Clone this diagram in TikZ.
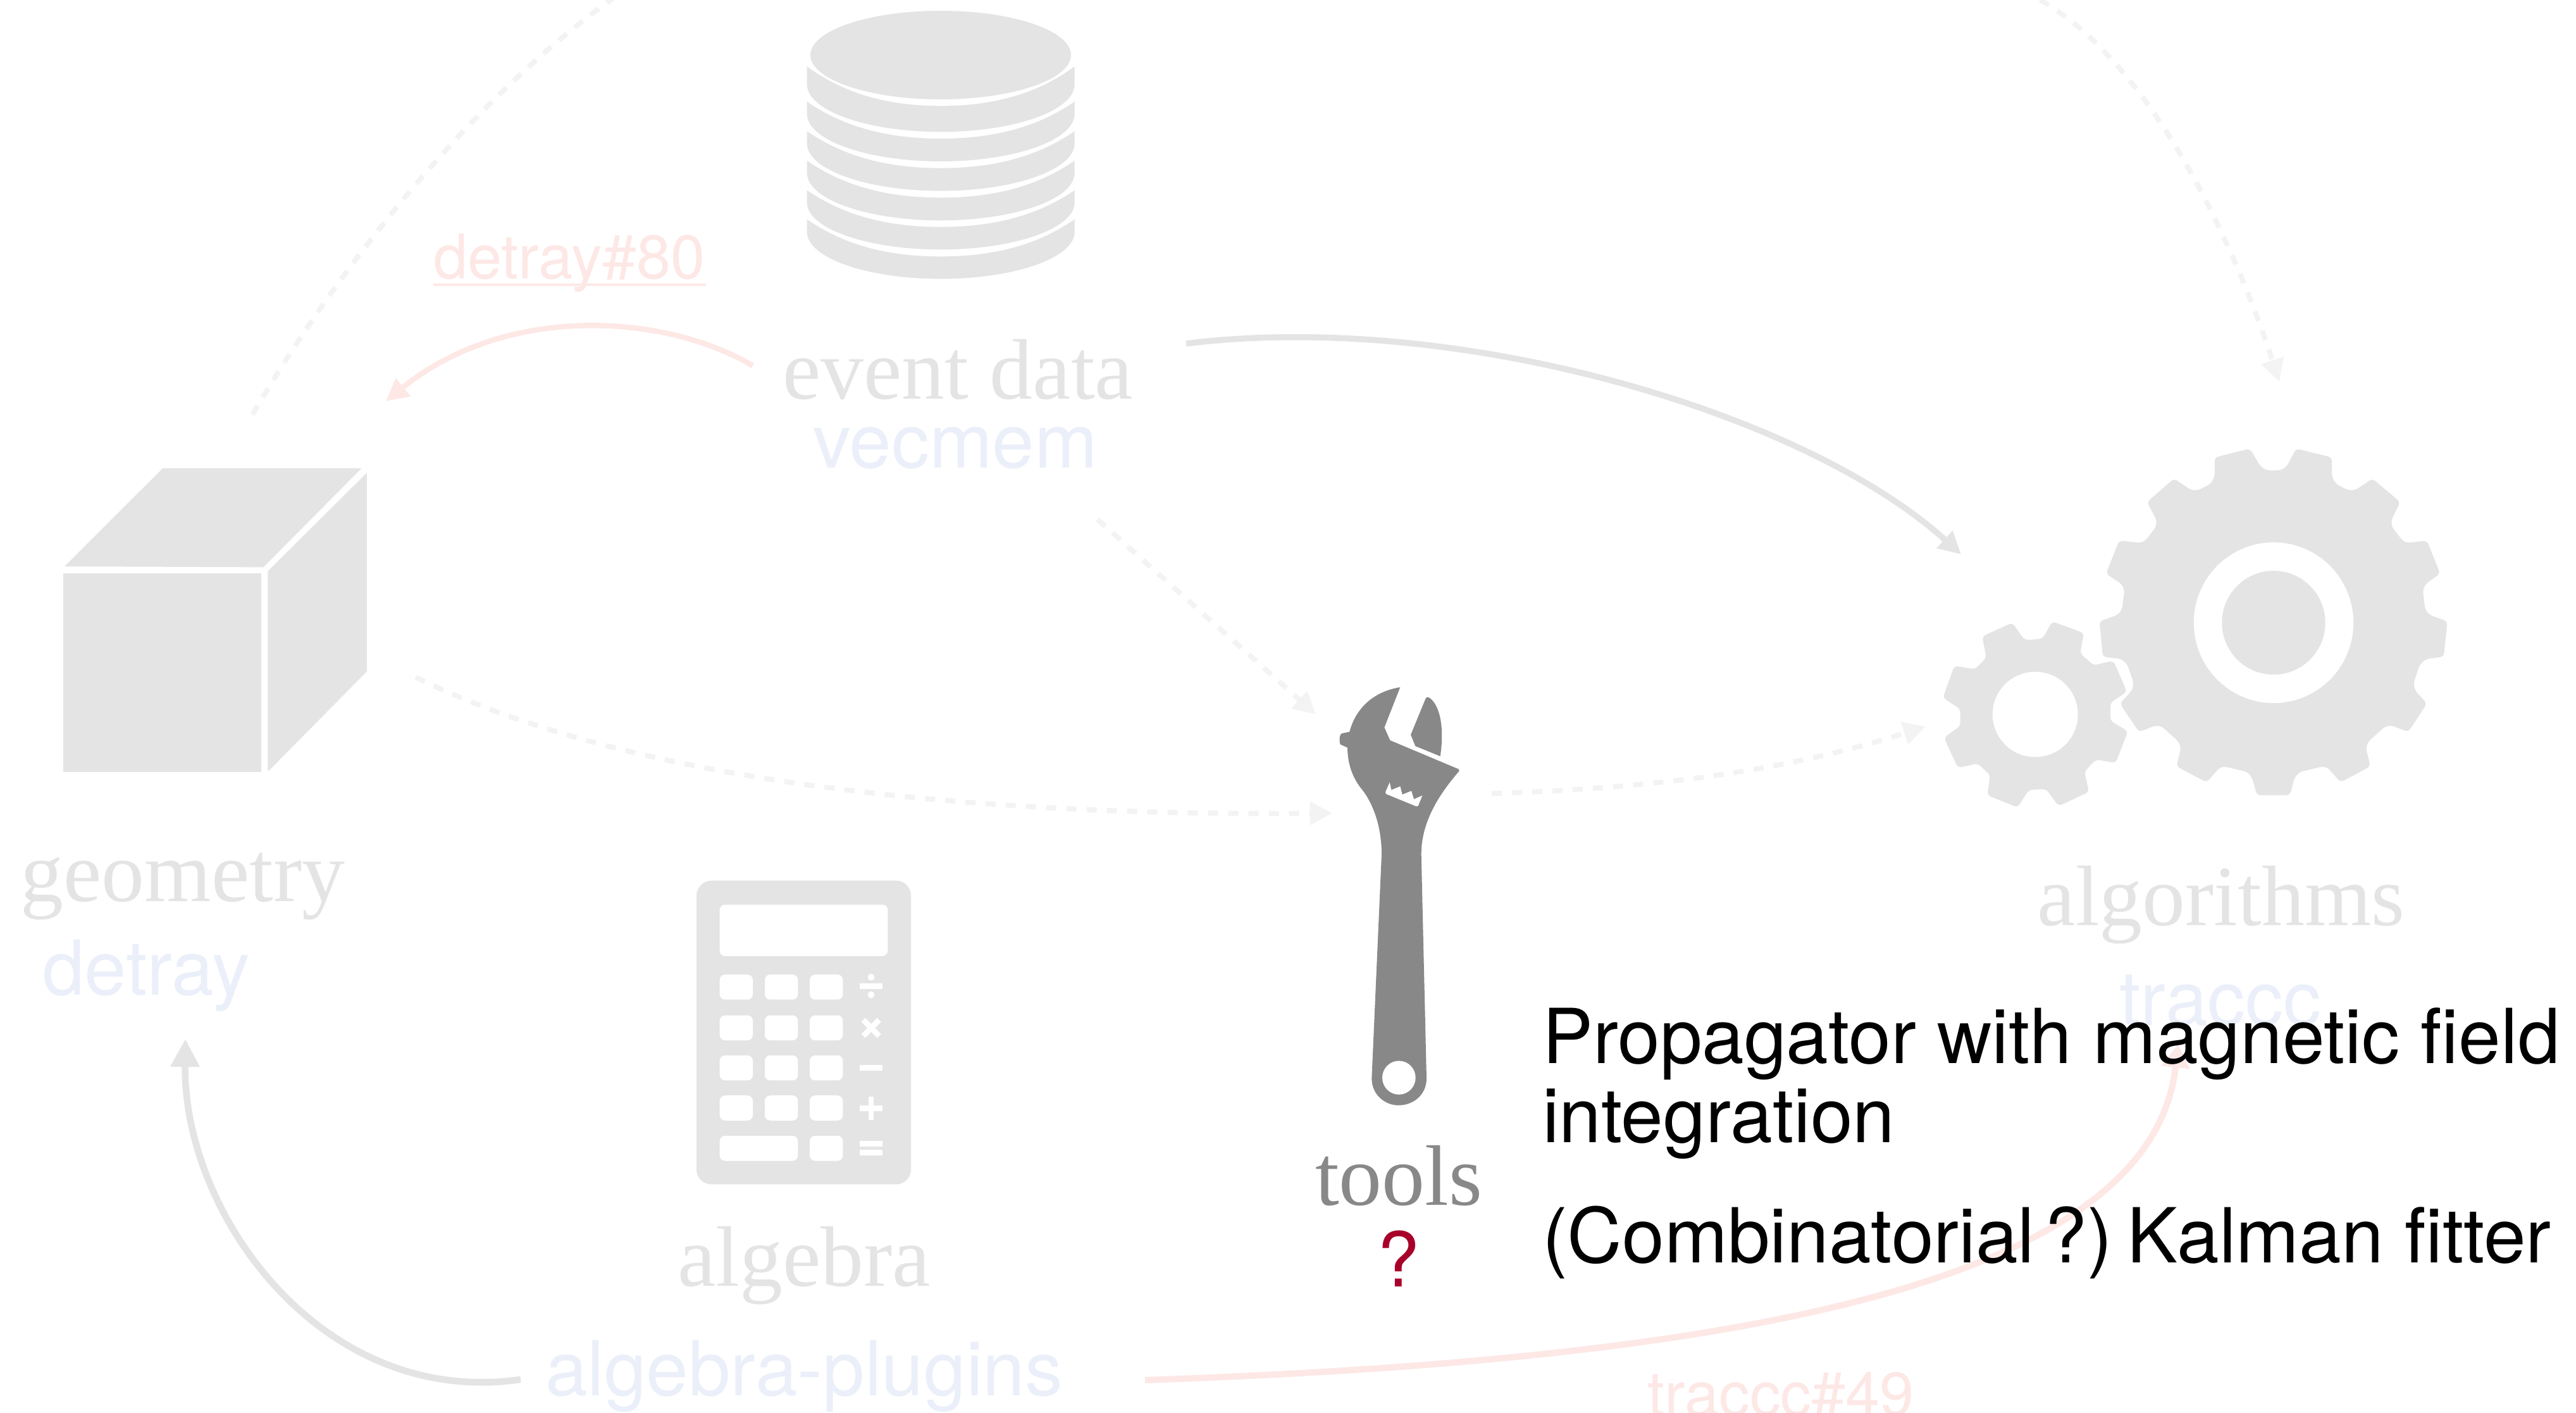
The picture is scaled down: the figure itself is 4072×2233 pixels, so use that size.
\documentclass[tikz,border=0pt]{standalone}
\usepackage{fontspec}
\setmainfont{Liberation Serif}
\newfontfamily\helv{TeX Gyre Heros}
\usetikzlibrary{arrows.meta}
\definecolor{icon}{HTML}{E4E4E4}
\definecolor{tool}{HTML}{888888}
\definecolor{dashc}{HTML}{F3F3F3}
\definecolor{redl}{HTML}{FDE8E6}
\definecolor{bluel}{HTML}{EBEFF9}
\definecolor{qmark}{HTML}{A8002B}
\tikzset{
  every node/.style={inner sep=0pt,outer sep=0pt},
  grouplabel/.style={anchor=base,font=\fontsize{38.6}{44}\selectfont,text=icon},
  projlabel/.style={anchor=base,font=\helv\fontsize{34.05}{40}\selectfont,text=bluel},
  issuelabel/.style={anchor=base,font=\helv\fontsize{27.7}{32}\selectfont,text=redl},
  notelabel/.style={anchor=base west,font=\helv\fontsize{34.1}{40}\selectfont,text=black},
  link/.style={line width=2.28pt},
  head/.style={-{Triangle[length=10pt,width=10pt]}},
  solidlink/.style={line width=2.7pt,draw=icon,head},
  redlink/.style={line width=2.4pt,draw=redl,head},
  dashlink/.style={link,draw=dashc,dash pattern=on 4.55pt off 4.55pt},
  iconpart/.style={fill=icon},
  zoomframe/.style n args={4}{shift={(#1,#2)},xscale=#3,yscale=#4},
}
\newcommand{\dbband}[4]{%
  \fill[iconpart] (107,#1) .. controls (290,{#1+(#2-#1)*0.72}) and (500,#2) .. (741,#2)
    .. controls (982,#2) and (1193,{#1+(#2-#1)*0.72}) .. (1376,#1)
    -- (1376,#3) .. controls (1376,{#3+(#4-#3)*0.5523}) and (1091,#4) .. (741,#4)
    .. controls (392,#4) and (107,{#3+(#4-#3)*0.5523}) .. (107,#3) -- cycle;}
\newcommand{\calckey}[4]{\fill[white,rounded corners=2.4pt] (#1,#3) rectangle (#2,#4);}
\begin{document}
\begin{tikzpicture}[x=0.01cm,y=-0.01cm]
\useasboundingbox (0,0) rectangle (4072,2233);
\fill[white] (0,0) rectangle (4072,2233);

% ---------- connector end points
\coordinate (tlA) at (972,-5);
\coordinate (tlB) at (395,662);
\coordinate (trA) at (3225,0);
\coordinate (trB) at (3603,603);
\coordinate (evOut) at (1875,543);
\coordinate (algIn) at (3100,876);
\coordinate (evLeft) at (1190,578);
\coordinate (geoTop) at (610,634);
\coordinate (plugL) at (823,2180);
\coordinate (geoBot) at (293,1642);
\coordinate (plugR) at (1810,2181);
\coordinate (tracIn) at (3443,1650);
\coordinate (vecOut) at (1735,821);
\coordinate (toolTop) at (2080,1129);
\coordinate (geoOut) at (657,1070);
\coordinate (toolLeft) at (2106,1285);
\coordinate (toolOut) at (2358,1254);
\coordinate (algLeft) at (3044,1148);

% ---------- database
\begin{scope}[zoomframe={1240}{0}{0.33333}{0.33333}]
  \fill[iconpart] (741,51) .. controls (1082,51) and (1359,145) .. (1359,261)
    .. controls (1359,377) and (1082,471) .. (741,471)
    .. controls (400,471) and (123,377) .. (123,261)
    .. controls (123,145) and (400,51) .. (741,51) -- cycle;
  \dbband{315}{502}{400}{625}
  \dbband{482}{657}{540}{765}
  \dbband{622}{797}{680}{905}
  \dbband{762}{937}{820}{1045}
  \dbband{902}{1076}{960}{1183}
  \dbband{1040}{1216}{1100}{1322}
\end{scope}

% ---------- cube
\begin{scope}[zoomframe={0}{640}{0.40816}{0.63776}]
  \fill[iconpart] (245,417) rectangle (1013,909);
  \fill[iconpart] (250,400) -- (630,157) -- (1400,157) -- (1020,402) -- cycle;
  \fill[iconpart] (1037,412) -- (1421,168) -- (1421,660) -- (1040,907) -- (1037,907) -- cycle;
\end{scope}

% ---------- calculator
\begin{scope}[zoomframe={1060}{1360}{0.33333}{0.34435}]
  \fill[iconpart,rounded corners=6.7pt] (123,92) rectangle (1140,1486);
  \calckey{233}{1030}{202}{438}
  \foreach \ya/\yb in {523/638,710/825,894/1009,1078/1193}{
    \calckey{233}{390}{\ya}{\yb}
    \calckey{447}{604}{\ya}{\yb}
    \calckey{660}{817}{\ya}{\yb}
  }
  \calckey{233}{604}{1263}{1378}
  \calckey{660}{817}{1263}{1378}
  % divide
  \fill[white] (897,563) rectangle (1005,589);
  \fill[white] (951,535) ellipse [x radius=16,y radius=16];
  \fill[white] (951,616) ellipse [x radius=16,y radius=16];
  % times
  \draw[white,line width=2.5pt] (914,731) -- (989,805);
  \draw[white,line width=2.5pt] (989,731) -- (914,805);
  % minus
  \fill[white] (897,939) rectangle (1005,965);
  % plus
  \fill[white] (897,1124) rectangle (1005,1150);
  \fill[white] (938,1083) rectangle (964,1190);
  % equals
  \fill[white] (897,1286) rectangle (1005,1312);
  \fill[white] (897,1328) rectangle (1005,1354);
\end{scope}

% ---------- gears
\begin{scope}[zoomframe={3040}{680}{0.54847}{0.40816}]
  \fill[iconpart,rounded corners=1.5pt]
    (942,71)--(972,140)--(990,155)--(1030,155)--(1048,140)--(1075,71)--(1178,105)--(1178,180)--(1190,208)--(1225,232)--(1245,232)--(1295,187)--(1375,278)--(1350,345)--(1350,372)--(1382,428)--(1395,436)--(1452,427)--(1490,555)--(1448,595)--(1440,620)--(1447,695)--(1460,715)--(1511,740)--(1500,877)--(1450,885)--(1432,905)--(1413,980)--(1418,1008)--(1452,1058)--(1398,1168)--(1350,1143)--(1332,1146)--(1283,1205)--(1276,1230)--(1289,1301)--(1203,1363)--(1165,1305)--(1150,1302)--(1085,1323)--(1070,1345)--(1057,1413)--(962,1413)--(948,1345)--(935,1323)--(870,1302)--(855,1305)--(817,1363)--(730,1301)--(743,1230)--(736,1205)--(687,1146)--(670,1143)--(622,1168)--(567,1058)--(602,1008)--(607,980)--(588,905)--(570,885)--(518,877)--(508,740)--(560,715)--(573,695)--(580,620)--(572,595)--(527,555)--(565,427)--(625,436)--(640,428)--(672,372)--(672,345)--(645,278)--(723,187)--(773,232)--(793,232)--(828,208)--(840,180)--(840,105)--cycle;
  \fill[white] (1010,745) ellipse [x radius=230,y radius=311];
  \fill[iconpart] (1010,745) ellipse [x radius=149,y radius=201];
  \fill[iconpart,rounded corners=1.5pt]
    (257,745)--(290,808)--(300,812)--(335,808)--(345,805)--(372,740)--(463,785)--(453,860)--(458,872)--(480,895)--(490,910)--(548,892)--(587,1012)--(540,1055)--(540,1125)--(590,1165)--(555,1288)--(500,1275)--(490,1285)--(465,1322)--(478,1400)--(390,1455)--(355,1390)--(340,1390)--(305,1392)--(272,1460)--(185,1413)--(193,1335)--(185,1325)--(157,1290)--(100,1307)--(60,1190)--(107,1145)--(107,1080)--(57,1035)--(90,912)--(148,925)--(155,918)--(182,880)--(170,798)--cycle;
  \fill[white] (323,1100) ellipse [x radius=123,y radius=165];
\end{scope}

% ---------- wrench
\begin{scope}[zoomframe={2000}{1040}{0.33333}{0.48473}]
  \fill[tool] (640,95) .. controls (520,108) and (430,160) .. (400,240) -- (362,246)
    .. controls (350,250) and (350,278) .. (358,282) -- (390,292)
    .. controls (390,350) and (420,395) .. (455,425)
    .. controls (520,480) and (552,560) .. (552,640) -- (505,1370)
    .. controls (505,1425) and (570,1458) .. (632,1458)
    .. controls (700,1458) and (765,1425) .. (765,1370) -- (740,640)
    .. controls (740,530) and (830,440) .. (920,368) -- (917,362) -- (592,268) -- (565,226) -- cycle;
  \fill[tool] (690,250) -- (760,133) .. controls (765,125) and (772,127) .. (780,130)
    .. controls (830,155) and (850,230) .. (830,320) -- (712,287) -- cycle;
  \fill[white] (634,1368) ellipse [x radius=79,y radius=55];
  \fill[white] (570,437) -- (590,405) -- (598,430) -- (640,418) -- (650,445) -- (693,433)
    -- (705,460) -- (745,448) -- (725,482) -- (715,483) -- (573,443) -- cycle;
\end{scope}

% ---------- connectors
\draw[dashlink] (tlA) .. controls (740,160) and (530,430) .. (tlB);
\draw[dashlink,head] (trA) .. controls (3400,100) and (3530,380) .. (trB);
\draw[dashlink,head] (vecOut) -- (toolTop);
\draw[dashlink,head] (geoOut) .. controls (1000,1240) and (1550,1290) .. (toolLeft);
\draw[dashlink,head] (toolOut) .. controls (2650,1245) and (2850,1210) .. (algLeft);
\draw[solidlink] (evOut) .. controls (2300,490) and (2850,650) .. (algIn);
\draw[redlink] (evLeft) .. controls (1050,495) and (800,480) .. (geoTop);
\draw[solidlink,line width=3pt,-{Triangle[length=12.5pt,width=12.5pt]}] (plugL) .. controls (510,2225) and (290,1920) .. (geoBot);
\draw[redlink,line width=2.85pt,-{Triangle[length=10.5pt,width=12.2pt]}] (plugR) .. controls (2700,2150) and (3400,2040) .. (tracIn);

% ---------- labels
\node[grouplabel] (lgeo) at (289,1424) {geometry};
\node[projlabel] (ldet) at (231,1572) {detray};
\node[grouplabel] (levt) at (1514,630) {event data};
\node[projlabel] (lvec) at (1510,739) {vecmem};
\node[issuelabel] (liss80) at (900,440) {detray\#80};
\fill[redl] (685,447.5) rectangle (1116,452);
\node[grouplabel] (lalg) at (1271,2032) {algebra};
\node[projlabel] (lplug) at (1271,2205) {algebra-plugins};
\node[grouplabel,text=tool] (ltool) at (2211,1904) {tools};
\node[projlabel,text=qmark] (lq) at (2211,2033) {?};
\node[grouplabel] (lalgo) at (3511,1462) {algorithms};
\node[projlabel] (ltrac) at (3510,1620) {traccc};
\node[issuelabel] (liss49) at (2815,2237) {traccc\#49};
\node[notelabel] (n1) at (2438,1680) {Propagator with magnetic field};
\node[notelabel] (n2) at (2438,1805) {integration};
\node[notelabel] (n3) at (2438,1995) {(Combinatorial\hspace*{-4.8pt} ?)\hspace*{-2.9pt} Kalman fitter};
\end{tikzpicture}
\end{document}
